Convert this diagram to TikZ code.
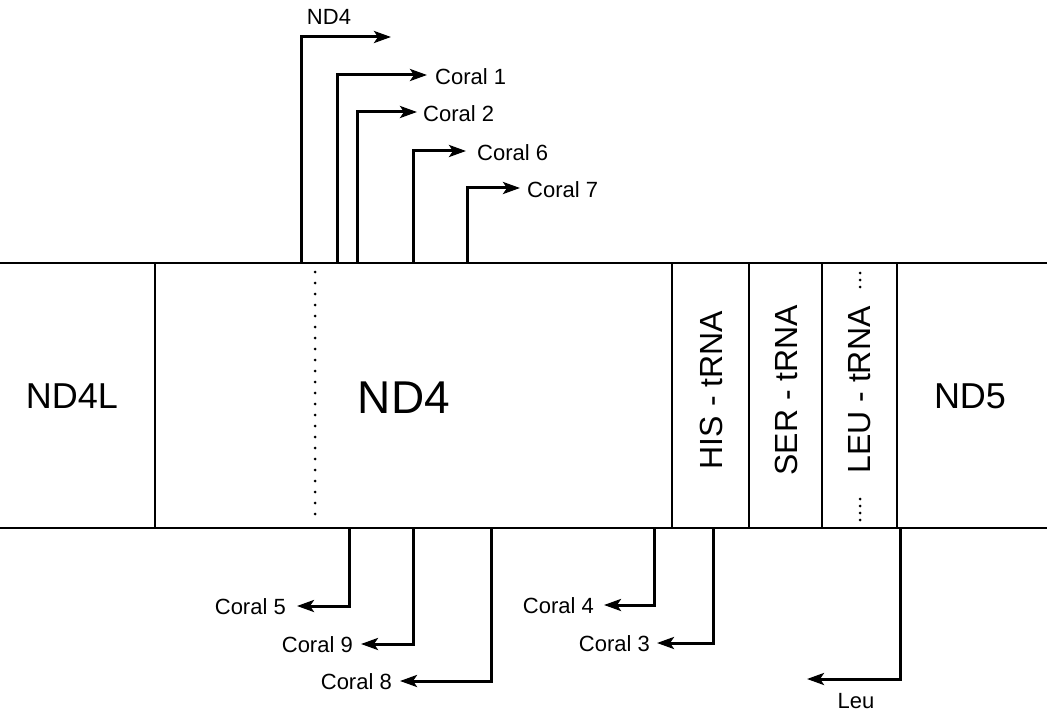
\documentclass[tikz,border=0pt]{standalone}
\usepackage{fontspec}
\setmainfont{Liberation Sans}
\usetikzlibrary{arrows.meta}
\begin{document}
\begin{tikzpicture}[x=1pt,y=-1pt,
  gline/.style={line width=2.8pt},
  arr/.style={line width=3pt,-{Stealth[length=17pt,width=12pt,inset=4pt]}},
  lab/.style={font=\fontsize{22}{24}\selectfont,inner sep=0pt},
  big/.style={font=\fontsize{36}{40}\selectfont,inner sep=0pt},
  trna/.style={font=\fontsize{32}{34}\selectfont,inner sep=0pt,rotate=90},
  dots/.style={line width=3pt,dash pattern=on 0pt off 11pt,line cap=round},
  fdots/.style={line width=3pt,dash pattern=on 0pt off 7pt,line cap=round}]
\useasboundingbox (0,0) rectangle (1047,714);
% main lines
\coordinate (L1) at (0,263); \coordinate (R1) at (1047,263);
\coordinate (L2) at (0,528); \coordinate (R2) at (1047,528);
\draw[gline] (L1) -- (R1);
\draw[gline] (L2) -- (R2);
% dividers
\foreach \n/\x in {a/155,b/672,c/749,d/822,e/897}{
  \coordinate (\n t) at (\x,263); \coordinate (\n b) at (\x,528);
  \draw[gline] (\n t) -- (\n b);}
\coordinate (dt) at (315,272); \coordinate (db) at (315,525);
\draw[dots] (dt) -- (db);
\coordinate (ldt) at (860,273); \coordinate (ldm) at (860,289);
\coordinate (ldb) at (860,499); \coordinate (ldc) at (860,527);
\draw[fdots] (ldt) -- (ldm);
\draw[fdots] (ldb) -- (ldc);
% gene labels
\node[big] (nd4l) at (72,396) {ND4L};
\node[big,font=\fontsize{46}{50}\selectfont] (nd4) at (404,398) {ND4};
\node[big] (nd5) at (970,396) {ND5};
\node[trna] (his) at (711,390) {HIS - tRNA};
\node[trna] (ser) at (786,390) {SER - tRNA};
\node[trna] (leu) at (860,390) {LEU - tRNA};
% top arrows
\coordinate (s0) at (301,263); \coordinate (e0) at (391,37);
\node[lab] (lnd4) at (329,17) {ND4};
\draw[arr] (s0) |- (e0);
\foreach \n/\x/\y/\t/\lx/\txt in {1/337/75/427/435/Coral 1,2/357/112/417/423/Coral 2,6/413/151/466/477/Coral 6,7/467/188/520/527/Coral 7}{
  \coordinate (s\n) at (\x,263); \coordinate (e\n) at (\t,\y);
  \node[lab,anchor=west] (c\n) at (\lx,\y+2) {\txt};
  \draw[arr] (s\n) |- (e\n);}
% bottom arrows
\foreach \n/\x/\y/\t/\lx/\txt in {5/349/606/297/286/Coral 5,9/413/644/361/353/Coral 9,8/491/681/400/392/Coral 8,4/654/605/604/594/Coral 4,3/713/643/657/650/Coral 3}{
  \coordinate (s\n) at (\x,528); \coordinate (e\n) at (\t,\y);
  \node[lab,anchor=east] (c\n) at (\lx,\y+1) {\txt};
  \draw[arr] (s\n) |- (e\n);}
\coordinate (sL) at (900,528); \coordinate (eL) at (807,679);
\node[lab] (leulab) at (856,701) {Leu};
\draw[arr] (sL) |- (eL);
\end{tikzpicture}
\end{document}
